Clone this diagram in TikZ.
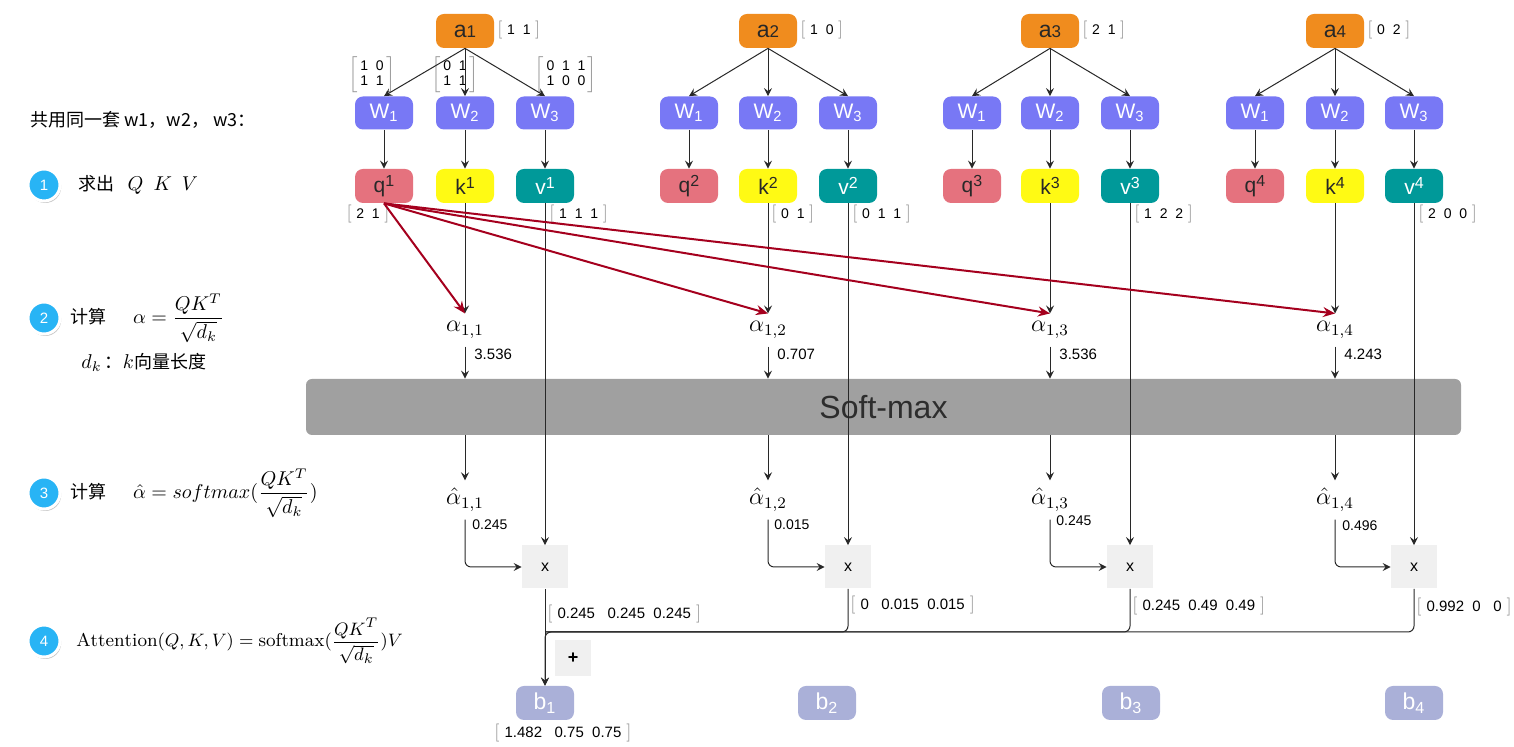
\documentclass[tikz,border=0pt]{standalone}
\usepackage{fontspec}
\setsansfont{Liberation Sans}
\newfontfamily\cjk{Noto Sans CJK SC}
\usetikzlibrary{arrows.meta,shadows}
\newcommand{\brk}[1]{{\color{brkColor}\rmfamily\fontsize{9}{9}\selectfont#1}}
\newcommand{\brvec}[1]{\brk{[}\,\,#1\,\,\brk{]}}
\newcommand{\brmat}[1]{$\color{brkColor}\left[\mbox{\color{black}\begin{tabular}{@{\,}l@{\,}}#1\end{tabular}}\right]$}
\newcommand{\upidx}[1]{\raisebox{3.2pt}{\fontsize{8}{8}\selectfont#1}}
\begin{document}
\begin{tikzpicture}[x=0.5pt,y=0.5pt,
  box/.style={rounded corners=4pt,minimum width=29pt,minimum height=17pt,inner sep=0pt,font=\sffamily\fontsize{10.5}{12}\selectfont},
  abox/.style={box,fill=aColor,text=txtColor,font=\sffamily\fontsize{11.5}{12}\selectfont},
  wbox/.style={box,fill=wColor,text=white,minimum height=16.5pt},
  qbox/.style={box,fill=qColor,text=txtColor},
  kbox/.style={box,fill=kColor,text=txtColor},
  vbox/.style={box,fill=vColor,text=white},
  bbox/.style={box,fill=bColor,text=white,font=\sffamily\fontsize{11.5}{12}\selectfont},
  mulbox/.style={fill=mulColor,minimum width=23pt,minimum height=21.5pt,inner sep=0pt,font=\sffamily\fontsize{8}{9}\selectfont},
  addbox/.style={fill=mulColor,minimum size=18pt,inner sep=0pt,font=\sffamily\bfseries\fontsize{9}{9}\selectfont},
  alphanode/.style={inner sep=1pt,outer sep=3pt,font=\fontsize{12}{14}\selectfont},
  numlabel/.style={anchor=west,inner sep=0pt,font=\sffamily\fontsize{7.5}{8}\selectfont},
  veclabel/.style={inner sep=0pt,font=\sffamily\fontsize{7}{7.5}\selectfont},
  stepcirc/.style={circle,fill=stepColor,draw=white,line width=1.5pt,minimum size=16pt,inner sep=0pt,text=white,font=\sffamily\fontsize{7.5}{8}\selectfont,drop shadow={shadow xshift=0.6pt,shadow yshift=-1pt,opacity=0.45}},
  steptext/.style={anchor=west,inner sep=0pt,font=\fontsize{10}{12}\selectfont},
  conn/.style={draw=lineColor,line width=0.5pt,-{Stealth[length=4pt,width=4pt,inset=1.5pt]}},
  wire/.style={draw=lineColor,line width=0.5pt},
  redconn/.style={draw=redColor,line width=1pt,-{Stealth[length=6pt,width=5pt,inset=2pt]}}]
\definecolor{fillColor}{RGB}{255,255,255}
\definecolor{aColor}{RGB}{240,140,30}
\definecolor{wColor}{RGB}{120,120,245}
\definecolor{qColor}{RGB}{229,114,126}
\definecolor{kColor}{RGB}{255,250,20}
\definecolor{vColor}{RGB}{0,153,153}
\definecolor{bColor}{RGB}{170,176,216}
\definecolor{mulColor}{RGB}{240,240,240}
\definecolor{barColor}{RGB}{160,160,160}
\definecolor{smColor}{RGB}{45,45,45}
\definecolor{txtColor}{RGB}{40,40,40}
\definecolor{lineColor}{RGB}{40,40,40}
\definecolor{redColor}{RGB}{165,0,30}
\definecolor{brkColor}{RGB}{150,150,150}
\definecolor{stepColor}{RGB}{40,180,245}
\path[use as bounding box,fill=fillColor] (0,0) rectangle (1514,747);

\begin{scope}
\node[anchor=west,inner sep=0pt,font=\cjk\fontsize{9}{11}\selectfont] (head) at (30,627) {共用同一套 w1，w2， w3：};

\node[stepcirc] (c1) at (44,562) {1};

\node[steptext] (t1) at (78,562) {{\cjk\fontsize{9}{11}\selectfont 求出}\ \ $Q\ \,K\ \,V$};

\node[stepcirc] (c2) at (44,429) {2};

\node[steptext] (t2) at (70,429) {{\cjk\fontsize{9}{11}\selectfont 计算}\ \ \ \ $\displaystyle\alpha=\frac{QK^T}{\sqrt{d_k}}$};

\node[steptext] (t2b) at (81,385) {$d_k$\,{\cjk\fontsize{9}{11}\selectfont ：}$k${\cjk\fontsize{9}{11}\selectfont 向量长度}};

\node[stepcirc] (c3) at (44,254) {3};

\node[steptext] (t3) at (70,254) {{\cjk\fontsize{9}{11}\selectfont 计算}\ \ \ \ $\displaystyle\hat\alpha=softmax(\frac{QK^T}{\sqrt{d_k}})$};

\node[stepcirc] (c4) at (44,106) {4};

\node[steptext,font=\fontsize{9.3}{11}\selectfont] (t4) at (76,106) {$\displaystyle\mathrm{Attention}(Q,K,V)=\mathrm{softmax}(\frac{QK^T}{\sqrt{d_k}})V$};
\end{scope}

\begin{scope}
\node[abox] (a1) at (465,716) {a{\fontsize{8.5}{9}\selectfont 1}};

\node[abox] (a2) at (768,716) {a{\fontsize{8.5}{9}\selectfont 2}};

\node[abox] (a3) at (1050,716) {a{\fontsize{8.5}{9}\selectfont 3}};

\node[abox] (a4) at (1335,716) {a{\fontsize{8.5}{9}\selectfont 4}};

\node[wbox] (w11) at (384,634) {W\textsubscript{1}};

\node[wbox] (w12) at (465,634) {W\textsubscript{2}};

\node[wbox] (w13) at (545,634) {W\textsubscript{3}};

\node[wbox] (w21) at (689,634) {W\textsubscript{1}};

\node[wbox] (w22) at (768,634) {W\textsubscript{2}};

\node[wbox] (w23) at (848,634) {W\textsubscript{3}};

\node[wbox] (w31) at (972,634) {W\textsubscript{1}};

\node[wbox] (w32) at (1050,634) {W\textsubscript{2}};

\node[wbox] (w33) at (1130,634) {W\textsubscript{3}};

\node[wbox] (w41) at (1255,634) {W\textsubscript{1}};

\node[wbox] (w42) at (1335,634) {W\textsubscript{2}};

\node[wbox] (w43) at (1414,634) {W\textsubscript{3}};

\node[qbox] (q1) at (384,561) {q\upidx{1}};

\node[kbox] (k1) at (465,561) {k\upidx{1}};

\node[vbox] (v1) at (545,561) {v\upidx{1}};

\node[qbox] (q2) at (689,561) {q\upidx{2}};

\node[kbox] (k2) at (768,561) {k\upidx{2}};

\node[vbox] (v2) at (848,561) {v\upidx{2}};

\node[qbox] (q3) at (972,561) {q\upidx{3}};

\node[kbox] (k3) at (1050,561) {k\upidx{3}};

\node[vbox] (v3) at (1130,561) {v\upidx{3}};

\node[qbox] (q4) at (1255,561) {q\upidx{4}};

\node[kbox] (k4) at (1335,561) {k\upidx{4}};

\node[vbox] (v4) at (1414,561) {v\upidx{4}};
\end{scope}

\begin{scope}
\node[veclabel,anchor=west] (va1) at (497,717) {\brvec{1\ \ 1}};

\node[veclabel,anchor=west] (va2) at (800,717) {\brvec{1\ \ 0}};

\node[veclabel,anchor=west] (va3) at (1082,717) {\brvec{2\ \ 1}};

\node[veclabel,anchor=west] (va4) at (1367,717) {\brvec{0\ \ 2}};

\node[veclabel] (mw1) at (372,672) {\brmat{1\ \ 0\\1\ \ 1}};

\node[veclabel] (mw2) at (455,672) {\brmat{0\ \ 1\\1\ \ 1}};

\node[veclabel] (mw3) at (566,672) {\brmat{0\ \ 1\ \ 1\\1\ \ 0\ \ 0}};

\node[veclabel] (vq1) at (368,533) {\brvec{2\ \ 1}};

\node[veclabel,anchor=west] (vv1) at (549,533) {\brvec{1\ \ 1\ \ 1}};

\node[veclabel,anchor=west] (vk2) at (771,533) {\brvec{0\ \ 1}};

\node[veclabel,anchor=west] (vv2) at (852,533) {\brvec{0\ \ 1\ \ 1}};

\node[veclabel,anchor=west] (vv3) at (1134,533) {\brvec{1\ \ 2\ \ 2}};

\node[veclabel,anchor=west] (vv4) at (1418,533) {\brvec{2\ \ 0\ \ 0}};
\end{scope}

\node[fill=barColor,rounded corners=3pt,minimum width=577.5pt,minimum height=28pt,text=smColor,font=\sffamily\fontsize{16}{18}\selectfont] (sm) at (883.5,340) {Soft-max};

\begin{scope}
\node[alphanode] (al1) at (465,417) {$\alpha_{1,1}$};

\node[alphanode] (al2) at (768,417) {$\alpha_{1,2}$};

\node[alphanode] (al3) at (1050,417) {$\alpha_{1,3}$};

\node[alphanode] (al4) at (1335,417) {$\alpha_{1,4}$};

\node[numlabel] (s1) at (474,393) {3.536};

\node[numlabel] (s2) at (777,393) {0.707};

\node[numlabel] (s3) at (1059,393) {3.536};

\node[numlabel] (s4) at (1344,393) {4.243};

\node[alphanode] (ah1) at (465,247) {$\hat\alpha_{1,1}$};

\node[alphanode] (ah2) at (768,247) {$\hat\alpha_{1,2}$};

\node[alphanode] (ah3) at (1050,247) {$\hat\alpha_{1,3}$};

\node[alphanode] (ah4) at (1335,247) {$\hat\alpha_{1,4}$};

\node[numlabel,font=\sffamily\fontsize{7}{8}\selectfont] (p1) at (472,222) {0.245};

\node[numlabel,font=\sffamily\fontsize{7}{8}\selectfont] (p2) at (774,222) {0.015};

\node[numlabel,font=\sffamily\fontsize{7}{8}\selectfont] (p3) at (1056,226) {0.245};

\node[numlabel,font=\sffamily\fontsize{7}{8}\selectfont] (p4) at (1342,221) {0.496};

\node[mulbox] (m1) at (545,180) {x};

\node[mulbox] (m2) at (848,180) {x};

\node[mulbox] (m3) at (1130,180) {x};

\node[mulbox] (m4) at (1414,180) {x};

\node[veclabel,anchor=west,font=\sffamily\fontsize{7.5}{8}\selectfont] (r1) at (547,133) {\brvec{0.245\ \ \ 0.245\ \ 0.245}};

\node[veclabel,anchor=west,font=\sffamily\fontsize{7.5}{8}\selectfont] (r2) at (850,142) {\brvec{0\ \ \ 0.015\ \ 0.015}};

\node[veclabel,anchor=west,font=\sffamily\fontsize{7.5}{8}\selectfont] (r3) at (1132,141) {\brvec{0.245\ \ 0.49\ \ 0.49}};

\node[veclabel,anchor=west,font=\sffamily\fontsize{7.5}{8}\selectfont] (r4) at (1416,140) {\brvec{0.992\ \ 0\ \ \ 0}};

\coordinate (bus) at (545,115);

\node[addbox] (add) at (573,89) {+};

\node[bbox] (b1) at (545,44) {b\textsubscript{1}};

\node[bbox] (b2) at (827,44) {b\textsubscript{2}};

\node[bbox] (b3) at (1131,44) {b\textsubscript{3}};

\node[bbox] (b4) at (1414,44) {b\textsubscript{4}};

\node[veclabel,font=\sffamily\fontsize{7.5}{8}\selectfont] (r5) at (563,14) {\brvec{1.482\ \ \ 0.75\ \ 0.75}};
\end{scope}

\draw[conn] (a1.south) -- (w11.north);

\draw[conn] (a1.south) -- (w12.north);

\draw[conn] (a1.south) -- (w13.north);

\draw[conn] (a2.south) -- (w21.north);

\draw[conn] (a2.south) -- (w22.north);

\draw[conn] (a2.south) -- (w23.north);

\draw[conn] (a3.south) -- (w31.north);

\draw[conn] (a3.south) -- (w32.north);

\draw[conn] (a3.south) -- (w33.north);

\draw[conn] (a4.south) -- (w41.north);

\draw[conn] (a4.south) -- (w42.north);

\draw[conn] (a4.south) -- (w43.north);

\draw[conn] (w11) -- (q1);

\draw[conn] (w12) -- (k1);

\draw[conn] (w13) -- (v1);

\draw[conn] (w21) -- (q2);

\draw[conn] (w22) -- (k2);

\draw[conn] (w23) -- (v2);

\draw[conn] (w31) -- (q3);

\draw[conn] (w32) -- (k3);

\draw[conn] (w33) -- (v3);

\draw[conn] (w41) -- (q4);

\draw[conn] (w42) -- (k4);

\draw[conn] (w43) -- (v4);

\draw[conn] (k1) -- (al1);

\draw[conn] (k2) -- (al2);

\draw[conn] (k3) -- (al3);

\draw[conn] (k4) -- (al4);

\draw[conn] (v1) -- (m1);

\draw[conn] (v2) -- (m2);

\draw[conn] (v3) -- (m3);

\draw[conn] (v4) -- (m4);

\draw[conn] (al1) -- (al1 |- sm.north);

\draw[conn] (al2) -- (al2 |- sm.north);

\draw[conn] (al3) -- (al3 |- sm.north);

\draw[conn] (al4) -- (al4 |- sm.north);

\draw[conn] (ah1 |- sm.south) -- (ah1);

\draw[conn] (ah2 |- sm.south) -- (ah2);

\draw[conn] (ah3 |- sm.south) -- (ah3);

\draw[conn] (ah4 |- sm.south) -- (ah4);

\draw[conn,rounded corners=3pt] (ah1.south) |- (m1.west);

\draw[conn,rounded corners=3pt] (ah2.south) |- (m2.west);

\draw[conn,rounded corners=3pt] (ah3.south) |- (m3.west);

\draw[conn,rounded corners=3pt] (ah4.south) |- (m4.west);

\draw[wire,rounded corners=3pt] (m2.south) |- (bus);

\draw[wire,rounded corners=3pt] (m3.south) |- (bus);

\draw[conn,rounded corners=3pt] (m4.south) |- (bus) -- (b1.north);

\draw[conn] (m1.south) -- (b1.north);

\draw[redconn] (q1.south) -- (al1.north);

\draw[redconn] (q1.south) -- (al2.north);

\draw[redconn] (q1.south) -- (al3.north);

\draw[redconn] (q1.south) -- (al4.north);
\end{tikzpicture}
\end{document}
